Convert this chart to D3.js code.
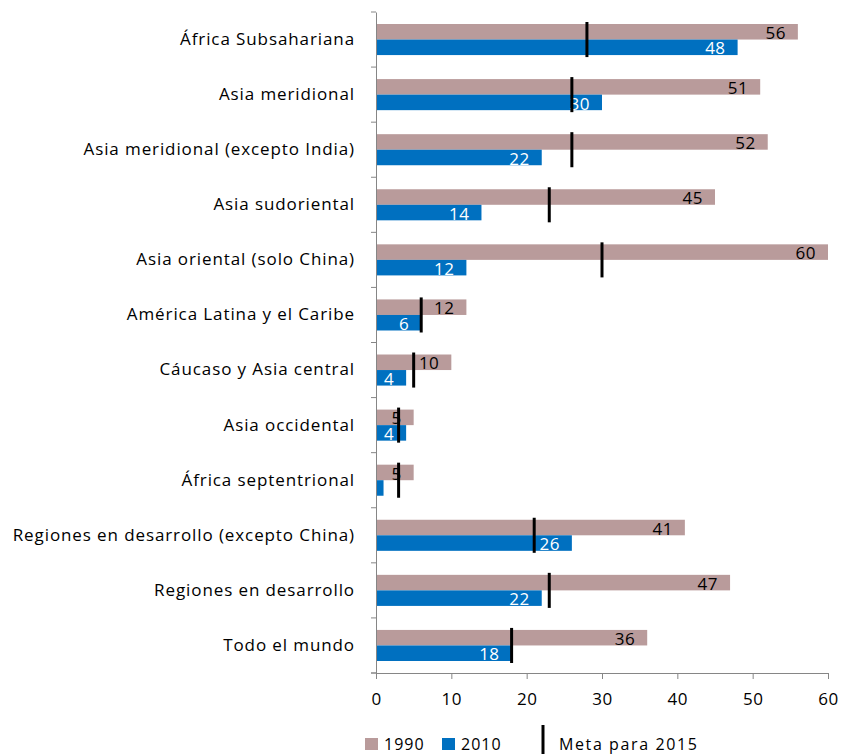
<!DOCTYPE html>
<html>
<head>
<meta charset="utf-8">
<script src="https://cdn.jsdelivr.net/npm/d3@7/dist/d3.min.js"></script>
<style>
  body { margin: 0; background: #fff; }
  svg { display: block; }
  text { font-family: "Open Sans", "Noto Sans", sans-serif; }
</style>
</head>
<body>
<svg id="chart" width="841" height="754"></svg>
<script>
const categories = [
  "África Subsahariana",
  "Asia meridional",
  "Asia meridional (excepto India)",
  "Asia sudoriental",
  "Asia oriental (solo China)",
  "América Latina y el Caribe",
  "Cáucaso y Asia central",
  "Asia occidental",
  "África septentrional",
  "Regiones en desarrollo (excepto China)",
  "Regiones en desarrollo",
  "Todo el mundo"
];
const values1990 = [56, 51, 52, 45, 60, 12, 10, 5, 5, 41, 47, 36];
const values2010 = [48, 30, 22, 14, 12, 6, 4, 4, 1, 26, 22, 18];
const target2015 = [28, 26, 26, 23, 30, 6, 5, 3, 3, 21, 23, 18];
const xTicks = [0, 10, 20, 30, 40, 50, 60];
const seriesNames = ["1990", "2010"];
const targetName = "Meta para 2015";

const colors = { s1990: "#B99B9B", s2010: "#0070C0", target: "#000000", axis: "#868686" };

const svg = d3.select("#chart");
const margin = { left: 376, right: 13, top: 12, bottom: 81 };
const W = 841, H = 754;
const x = d3.scaleLinear().domain([0, 60]).range([margin.left, W - margin.right]);
const y = d3.scaleBand().domain(categories).range([margin.top, H - margin.bottom]).paddingInner(0).paddingOuter(0);
const bw = y.bandwidth();
const barH = bw * 0.282;

const data = categories.map((c, i) => ({ c, v1: values1990[i], v2: values2010[i], t: target2015[i] }));

const g = svg.append("g");

// bars 1990
g.selectAll("rect.b1").data(data).join("rect")
  .attr("x", x(0)).attr("y", d => y(d.c) + bw / 2 - barH)
  .attr("width", d => x(d.v1) - x(0)).attr("height", barH)
  .attr("fill", colors.s1990);
// bars 2010
g.selectAll("rect.b2").data(data).join("rect")
  .attr("x", x(0)).attr("y", d => y(d.c) + bw / 2)
  .attr("width", d => x(d.v2) - x(0)).attr("height", barH)
  .attr("fill", colors.s2010);

// labels
g.selectAll("text.l1").data(data).join("text")
  .attr("x", d => x(d.v1) - 12).attr("y", d => y(d.c) + bw / 2 - barH / 2 + 1)
  .attr("dy", "0.36em").attr("text-anchor", "end")
  .attr("font-size", 17).attr("letter-spacing", 0.5).attr("fill", "#000")
  .text(d => d.v1);
g.selectAll("text.l2").data(data.filter(d => d.v2 >= 2)).join("text")
  .attr("x", d => x(d.v2) - 12).attr("y", d => y(d.c) + bw / 2 + barH / 2 + 1)
  .attr("dy", "0.36em").attr("text-anchor", "end")
  .attr("font-size", 17).attr("letter-spacing", 0.5).attr("fill", "#fff")
  .text(d => d.v2);

// target markers
g.selectAll("line.t").data(data).join("line")
  .attr("x1", d => x(d.t)).attr("x2", d => x(d.t))
  .attr("y1", d => y(d.c) + bw / 2 - barH - 2)
  .attr("y2", d => y(d.c) + bw / 2 + barH + 2)
  .attr("stroke", colors.target).attr("stroke-width", 3);

// y axis
const yAxis = d3.axisLeft(y).tickSize(0).tickPadding(21);
const ya = svg.append("g").attr("transform", `translate(${x(0)},0)`).call(yAxis);
ya.select(".domain").attr("stroke", colors.axis);
ya.selectAll("text").attr("font-size", 17).attr("letter-spacing", 0.9).attr("fill", "#000").attr("font-family", '"Open Sans", sans-serif');
// boundary ticks
const bounds = d3.range(categories.length + 1).map(i => margin.top + i * bw);
svg.append("g").selectAll("line").data(bounds).join("line")
  .attr("x1", x(0) - 5).attr("x2", x(0)).attr("y1", d => d).attr("y2", d => d)
  .attr("stroke", colors.axis);

// x axis
const xAxis = d3.axisBottom(x).tickValues(xTicks).tickSize(6).tickPadding(14).tickSizeOuter(0);
const xa = svg.append("g").attr("transform", `translate(0,${H - margin.bottom})`).call(xAxis);
xa.select(".domain").attr("stroke", colors.axis);
xa.selectAll(".tick line").attr("stroke", colors.axis);
xa.selectAll("text").attr("font-size", 17).attr("letter-spacing", 0.5).attr("fill", "#000").attr("font-family", '"Open Sans", sans-serif');
// left overhang
svg.append("line").attr("x1", x(0) - 5).attr("x2", x(0)).attr("y1", H - margin.bottom).attr("y2", H - margin.bottom).attr("stroke", colors.axis);

// legend
const lg = svg.append("g");
const legendItems = [
  { name: seriesNames[0], color: colors.s1990, x: 365 },
  { name: seriesNames[1], color: colors.s2010, x: 442 }
];
legendItems.forEach(it => {
  lg.append("rect").attr("x", it.x).attr("y", 738).attr("width", 13).attr("height", 12).attr("fill", it.color);
  lg.append("text").attr("x", it.x + 19).attr("y", 750).attr("font-size", 16).attr("letter-spacing", 1).attr("fill", "#000").text(it.name);
});
lg.append("line").attr("x1", 543).attr("x2", 543).attr("y1", 725).attr("y2", 754).attr("stroke", "#000").attr("stroke-width", 3);
lg.append("text").attr("x", 559).attr("y", 750).attr("font-size", 16).attr("letter-spacing", 1.6).attr("fill", "#000").text(targetName);
</script>
</body>
</html>
